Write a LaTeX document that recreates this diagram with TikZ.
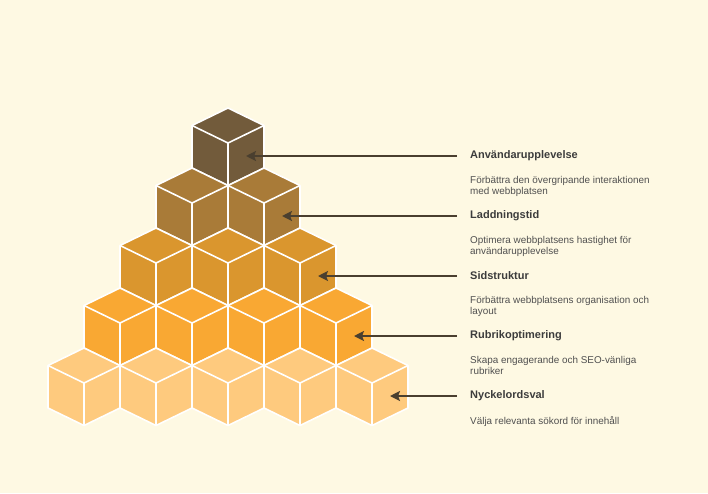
\documentclass[tikz,border=0pt]{standalone}
\usepackage{fontspec}
\setmainfont{Liberation Sans}
\usetikzlibrary{arrows.meta}
\definecolor{bg}{HTML}{FEF9E3}
\definecolor{c0}{HTML}{725B3B}
\definecolor{c1}{HTML}{A97B38}
\definecolor{c2}{HTML}{DA962E}
\definecolor{c3}{HTML}{F9A833}
\definecolor{c4}{HTML}{FECA7E}
\definecolor{arr}{HTML}{4A3F2F}
\definecolor{ttl}{HTML}{3C3C3C}
\definecolor{dsc}{HTML}{505050}
\tikzset{
  cubeedge/.style={draw=white, line width=1.6pt, line join=round},
  pointer/.style={draw=arr, line width=2pt, -{Stealth[length=10pt,width=10pt,inset=2pt]}},
  ttlnode/.style={anchor=west, inner sep=0pt, font=\fontsize{11}{13}\selectfont\bfseries, text=ttl},
  dscnode/.style={anchor=north west, inner sep=0pt, font=\fontsize{9.9}{11}\selectfont, text=dsc, align=left},
}
\newcommand{\mycube}[3]{%
  \fill[#3] (#1,#2) -- ++(36,17.5) -- ++(0,42.5) -- ++(-36,17.5) -- ++(-36,-17.5) -- ++(0,-42.5) -- cycle;
  \draw[cubeedge] (#1,#2) -- ++(36,17.5) -- ++(0,42.5) -- ++(-36,17.5) -- ++(-36,-17.5) -- ++(0,-42.5) -- cycle;
  \draw[cubeedge] (#1-36,#2+17.5) -- (#1,#2+35) -- (#1+36,#2+17.5);
  \draw[cubeedge] (#1,#2+35) -- (#1,#2+77.5);
}
\begin{document}
\begin{tikzpicture}[x=1pt,y=-1pt]
\fill[bg] (0,0) rectangle (708,493);
\useasboundingbox (0,0) rectangle (708,493);
\foreach \k/\col in {0/c0,1/c1,2/c2,3/c3,4/c4}{
  \foreach \j in {0,...,\k}{
    \pgfmathsetmacro{\cx}{228+36*(2*\j-\k)}
    \pgfmathsetmacro{\ty}{108+60*\k}
    \mycube{\cx}{\ty}{\col}
  }
}
\node[ttlnode] (t0) at (470,156) {Användarupplevelse};
\node[dscnode] (d0) at (470,176) {Förbättra den övergripande interaktionen\\med webbplatsen};
\node[ttlnode] (t1) at (470,216) {Laddningstid};
\node[dscnode] (d1) at (470,236) {Optimera webbplatsens hastighet för\\användarupplevelse};
\node[ttlnode] (t2) at (470,276) {Sidstruktur};
\node[dscnode] (d2) at (470,296) {Förbättra webbplatsens organisation och\\layout};
\node[ttlnode] (t3) at (470,336) {Rubrikoptimering};
\node[dscnode] (d3) at (470,356) {Skapa engagerande och SEO-vänliga\\rubriker};
\node[ttlnode] (t4) at (470,396) {Nyckelordsval};
\node[dscnode] (d4) at (470,416) {Välja relevanta sökord för innehåll};
\foreach \k in {0,...,4}{
  \coordinate (s\k) at (457,156+60*\k);
  \coordinate (e\k) at (246+36*\k,156+60*\k);
  \draw[pointer] (s\k) -- (e\k);
}
\end{tikzpicture}
\end{document}
